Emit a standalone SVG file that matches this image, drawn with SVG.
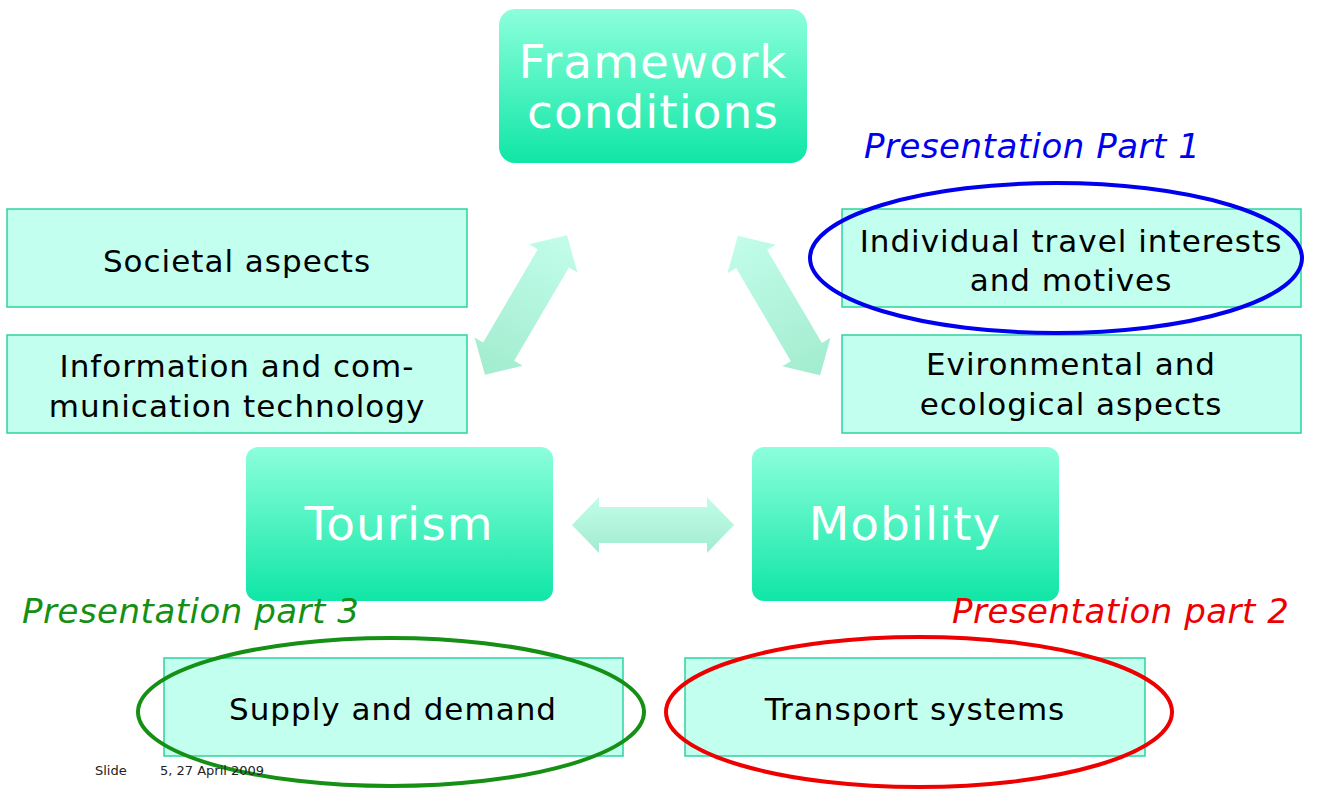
<svg xmlns="http://www.w3.org/2000/svg" width="1321" height="789" viewBox="0 0 1321 789">
<defs>
<linearGradient id="gMain" x1="0" y1="0" x2="0" y2="1">
<stop offset="0" stop-color="#8CFFDB"/>
<stop offset="1" stop-color="#10E6A6"/>
</linearGradient>
<linearGradient id="gH" gradientUnits="userSpaceOnUse" x1="0" y1="-28" x2="0" y2="28">
<stop offset="0" stop-color="#C2FDEA"/>
<stop offset="1" stop-color="#A2ECCF"/>
</linearGradient>
<linearGradient id="gL" gradientUnits="userSpaceOnUse" x1="81" y1="0" x2="-81" y2="0">
<stop offset="0" stop-color="#C2FDEA"/>
<stop offset="1" stop-color="#A2ECCF"/>
</linearGradient>
<linearGradient id="gR" gradientUnits="userSpaceOnUse" x1="-81" y1="0" x2="81" y2="0">
<stop offset="0" stop-color="#C2FDEA"/>
<stop offset="1" stop-color="#A2ECCF"/>
</linearGradient>
<path id="dbl" d="M -81 0 L -54 -28 L -54 -18 L 54 -18 L 54 -28 L 81 0 L 54 28 L 54 18 L -54 18 L -54 28 Z"/>
</defs>
<style>
.main{fill:url(#gMain);}
.mt{font-family:"DejaVu Sans",Verdana,sans-serif;font-size:47px;letter-spacing:1px;fill:#FFFFFF;text-anchor:middle;}
.box{fill:#C2FFEE;stroke:#2ED39E;stroke-width:1.5;}
.bt{font-family:"DejaVu Sans",Verdana,sans-serif;font-size:31px;letter-spacing:1px;fill:#000000;text-anchor:middle;}
.lbl{font-family:"DejaVu Sans",Verdana,sans-serif;font-size:34px;letter-spacing:0.5px;font-style:italic;}
.ell{fill:none;stroke-width:4;}
.ft{font-family:"DejaVu Sans",Verdana,sans-serif;font-size:13px;fill:#222222;}
</style>
<rect width="1321" height="789" fill="#FFFFFF"/>

<g id="connectors">
<use href="#dbl" fill="url(#gL)" transform="translate(526,305) rotate(-59.6)"/>
<use href="#dbl" fill="url(#gR)" transform="translate(779,305.5) rotate(59.5)"/>
<use href="#dbl" fill="url(#gH)" transform="translate(653,525)"/>
</g>

<g id="framework">
<rect class="main" x="499" y="9" width="308" height="154" rx="16"/>
<text class="mt" x="653" y="78">Framework</text>
<text class="mt" x="653" y="128">conditions</text>
</g>
<g id="tourism">
<rect class="main" x="246" y="447" width="307" height="154" rx="12"/>
<text class="mt" x="399" y="540">Tourism</text>
</g>
<g id="mobility">
<rect class="main" x="752" y="447" width="307" height="154" rx="12"/>
<text class="mt" x="905" y="540">Mobility</text>
</g>

<g id="societal">
<rect class="box" x="7" y="209" width="460" height="98"/>
<text class="bt" x="237" y="272">Societal aspects</text>
</g>
<g id="ict">
<rect class="box" x="7" y="335" width="460" height="98"/>
<text class="bt" x="237" y="377">Information and com-</text>
<text class="bt" x="237" y="417">munication technology</text>
</g>
<g id="individual">
<rect class="box" x="842" y="209" width="459" height="98"/>
<text class="bt" x="1071" y="252">Individual travel interests</text>
<text class="bt" x="1071" y="291">and motives</text>
</g>
<g id="environmental">
<rect class="box" x="842" y="335" width="459" height="98"/>
<text class="bt" x="1071" y="375">Evironmental and</text>
<text class="bt" x="1071" y="415">ecological aspects</text>
</g>
<g id="supply">
<rect class="box" x="164" y="658" width="459" height="98"/>
<text class="bt" x="393" y="720">Supply and demand</text>
</g>
<g id="transport">
<rect class="box" x="685" y="658" width="460" height="98"/>
<text class="bt" x="915" y="720">Transport systems</text>
</g>

<g id="part1">
<ellipse class="ell" cx="1056" cy="258" rx="246" ry="75" stroke="#0000EE"/>
<text class="lbl" x="864" y="158" fill="#0000EE">Presentation Part 1</text>
</g>
<g id="part3">
<ellipse class="ell" cx="391" cy="712" rx="253" ry="74" stroke="#159015"/>
<text class="lbl" x="22" y="623" fill="#159015">Presentation part 3</text>
</g>
<g id="part2">
<ellipse class="ell" cx="919" cy="712" rx="253" ry="75" stroke="#EE0000"/>
<text class="lbl" x="952" y="623" fill="#EE0000">Presentation part 2</text>
</g>

<g id="footer">
<text class="ft" x="95" y="775">Slide</text>
<text class="ft" x="160" y="775">5, 27 April 2009</text>
</g>
</svg>
